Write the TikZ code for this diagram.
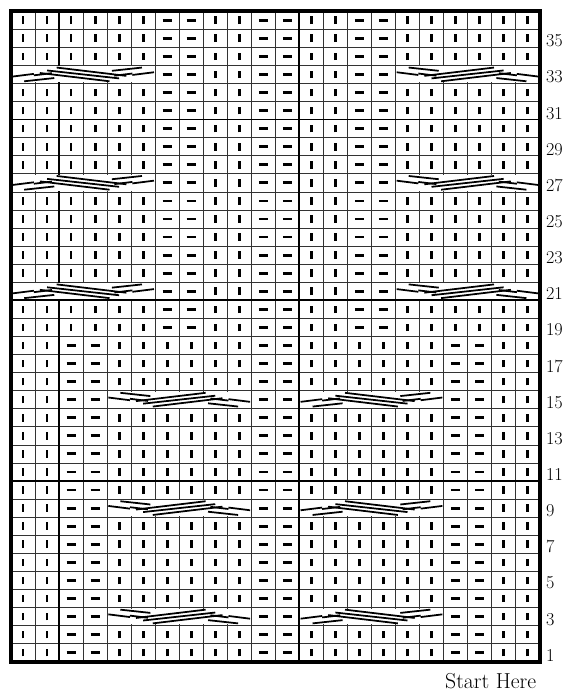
\documentclass[tikz,border=0pt]{standalone}
\usepackage{tikz}

% one stitch symbol per cell (column, row), cells counted from 1
\newcommand{\knitat}[2]{\draw[knit] (#1-0.5,#2-0.71) -- (#1-0.5,#2-0.29);}
\newcommand{\purlat}[2]{\draw[purl] (#1-0.69,#2-0.5) -- (#1-0.31,#2-0.5);}

\begin{document}
\begin{tikzpicture}[x=0.7209cm, y=0.5421cm,
    gridline/.style={line width=0.6pt, black!80},
    tenline/.style={line width=1.5pt},
    knit/.style={line width=2.4pt},
    purl/.style={line width=2.4pt},
    cablebar/.style={line width=1.5pt},
    rowlabel/.style={anchor=west, inner sep=0pt, font=\fontsize{15.5}{18}\selectfont},
    cablerise/.pic={
      % left arm
      \draw[cablebar] (0.05,0.62) -- (0.95,0.47);
      \draw[cablebar] (0.55,0.88) -- (1.80,0.70);
      \draw[cablebar] (0.95,0.55) -- (1.70,0.43);
      % crossing strands
      \draw[cablebar] (1.20,0.42) -- (4.10,0.88);
      \draw[cablebar] (1.50,0.28) -- (4.50,0.72);
      \draw[cablebar] (1.90,0.12) -- (4.80,0.58);
      % right arm
      \draw[cablebar] (5.95,0.38) -- (5.05,0.53);
      \draw[cablebar] (5.45,0.12) -- (4.20,0.30);
      \draw[cablebar] (5.05,0.45) -- (4.30,0.57);
    }]
  \useasboundingbox (-0.4578,-1.7875) rectangle (23.096,36.619);

  % Grid
  \foreach \c in {1,...,21}
    \draw[gridline] (\c,0) -- (\c,36);
  \foreach \r in {1,...,35}
    \draw[gridline] (0,\r) -- (22,\r);
  \draw[tenline] (2,0) -- (2,36);
  \draw[tenline] (12,0) -- (12,36);
  \foreach \r in {10,20,30}
    \draw[tenline] (0,\r) -- (22,\r);

  % Cable cells have no inner lines
  \foreach \r in {3,9,15} {
    \fill[white] (4.05,\r-0.94) rectangle (9.95,\r-0.06);
    \fill[white] (12.05,\r-0.94) rectangle (17.95,\r-0.06);
  }
  \foreach \r in {21,27,33} {
    \fill[white] (0.05,\r-0.94) rectangle (5.95,\r-0.06);
    \fill[white] (16.05,\r-0.94) rectangle (21.95,\r-0.06);
  }

  % Lower block: rows 1-18
  \foreach \r in {1,...,18} {
    \foreach \c in {1,2,21,22} {\knitat{\c}{\r}}
    \foreach \c in {3,4,11,12,19,20} {\purlat{\c}{\r}}
  }
  \foreach \r in {1,2,4,5,6,7,8,10,11,12,13,14,16,17,18} {
    \foreach \c in {5,6,7,8,9,10,13,14,15,16,17,18} {\knitat{\c}{\r}}
  }

  % Upper block: rows 19-36
  \foreach \r in {19,...,36} {
    \foreach \c in {9,10,13,14} {\knitat{\c}{\r}}
    \foreach \c in {7,8,11,12,15,16} {\purlat{\c}{\r}}
  }
  \foreach \r in {19,20,22,23,24,25,26,28,29,30,31,32,34,35,36} {
    \foreach \c in {1,2,3,4,5,6,17,18,19,20,21,22} {\knitat{\c}{\r}}
  }

  % Cables
  \foreach \r in {3,9,15} {
    \pic at (4,\r-1) {cablerise};
    \pic[xscale=-1] at (18,\r-1) {cablerise};
  }
  \foreach \r in {21,27,33} {
    \pic[xscale=-1] at (6,\r-1) {cablerise};
    \pic at (16,\r-1) {cablerise};
  }

  % Border
  \draw[line width=3.2pt] (0,0) rectangle (22,36);

  % Row numbers
  \foreach \r in {1,3,...,35}
    \node[rowlabel] (row\r) at (22.26,\r-0.65) {\r};
  \node[anchor=base west, inner sep=0pt, font=\fontsize{18.5}{21}\selectfont] (start) at (18.06,-1.51) {Start Here};
\end{tikzpicture}
\end{document}
